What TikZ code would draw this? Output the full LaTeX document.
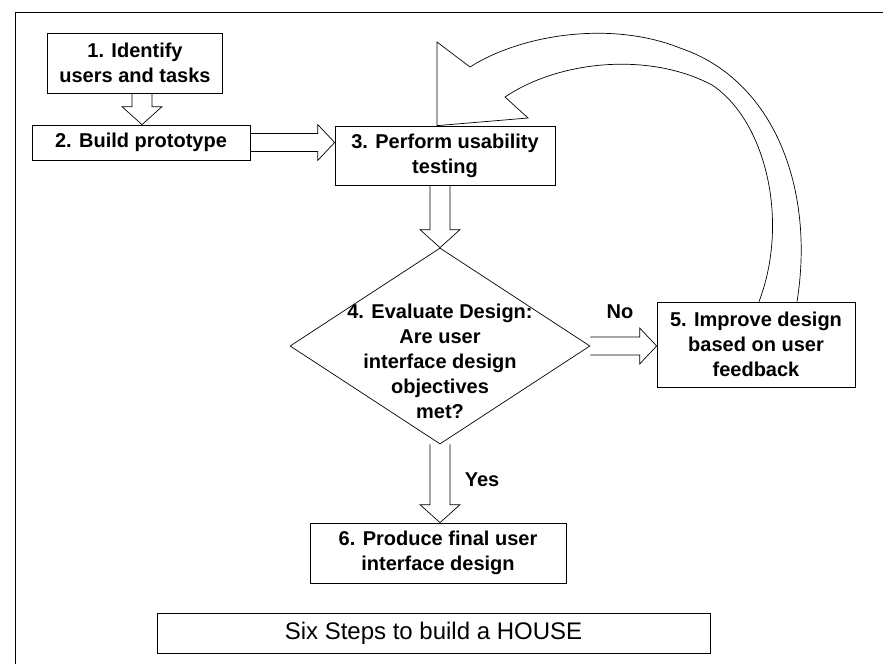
\documentclass[tikz,border=0pt]{standalone}
\usepackage{fontspec}
\setmainfont{Liberation Sans}
\usetikzlibrary{calc,shapes.geometric}
% block arrows: #1 tail point, #2 tip point
\newcommand{\arrowdown}[2]{%
  \draw[blk] ($(#1)+(-10,0)$) -- ($(#2)+(-10,-18)$) -- ($(#2)+(-20,-18)$)
    -- (#2) -- ($(#2)+(20,-18)$) -- ($(#2)+(10,-18)$) -- ($(#1)+(10,0)$);}
\newcommand{\arrowright}[2]{%
  \draw[blk] ($(#1)+(0,-9)$) -- ($(#2)+(-17,-9)$) -- ($(#2)+(-17,-18)$)
    -- (#2) -- ($(#2)+(-17,18)$) -- ($(#2)+(-17,9)$) -- ($(#1)+(0,9)$);}

\begin{document}
\begin{tikzpicture}[x=1pt,y=-1pt,line width=0.7pt,
  box/.style={draw,align=center,inner sep=2pt,
              font=\fontsize{20}{25}\selectfont\bfseries},
  lbl/.style={align=center,font=\fontsize{20}{25}\selectfont\bfseries},
  blk/.style={draw,line join=miter}]
\useasboundingbox (0,0) rectangle (883,664);
\draw (15,664) -- (15,12) -- (883,12);
\node[box,minimum width=175pt,minimum height=60pt] (s1) at (135,63)
  {1. Identify\\users and tasks};
\node[box,minimum width=218pt,minimum height=35pt] (s2) at (141,142.5)
  {2. Build prototype};
\node[box,minimum width=220pt,minimum height=59pt] (s3) at (445,155.5)
  {3. Perform usability\\testing};
\node[draw,diamond,minimum width=300pt,minimum height=196pt,inner sep=0pt]
  (dia) at (440,346) {};
\node[lbl] (dtxt) at ($(dia.center)+(0,15)$)
  {4. Evaluate Design:\\Are user\\interface design\\objectives\\met?};
\node[box,minimum width=198pt,minimum height=85pt] (s5) at (756,344.5)
  {5. Improve design\\based on user\\feedback};
\node[box,minimum width=256pt,minimum height=60pt] (s6) at (438,553)
  {6. Produce final user\\interface design};
\node[draw,minimum width=553pt,minimum height=40pt,
      font=\fontsize{24}{28}\selectfont] (title) at (433.5,633)
  {Six Steps to build a HOUSE};
\node[lbl] (no) at (620,312) {No};
\node[lbl] (yes) at (482,480) {Yes};
\coordinate (t12) at ($(s1.south)+(7,0)$);
\arrowdown{t12}{t12 |- s2.north}
\arrowright{s2.east}{s2.east -| s3.west}
\arrowdown{s3.south -| dia.north}{dia.north}
\arrowright{dia.east}{dia.east -| s5.west}
\arrowdown{dia.south}{dia.south |- s6.north}
% loop back from 5 to 3
\draw[blk] ($(s5.north)+(41,0)$) .. controls (815,190) and (775,80) .. (680,48)
  .. controls (610,20) and (520,35) .. (470,67) -- (437,42)
  -- ($(s3.north)+(-8,0)$) -- (528,118) -- (505,97)
  .. controls (560,60) and (650,52) .. (712,85)
  .. controls (765,120) and (790,220) .. ($(s5.north)+(3,0)$);
\end{tikzpicture}
\end{document}
